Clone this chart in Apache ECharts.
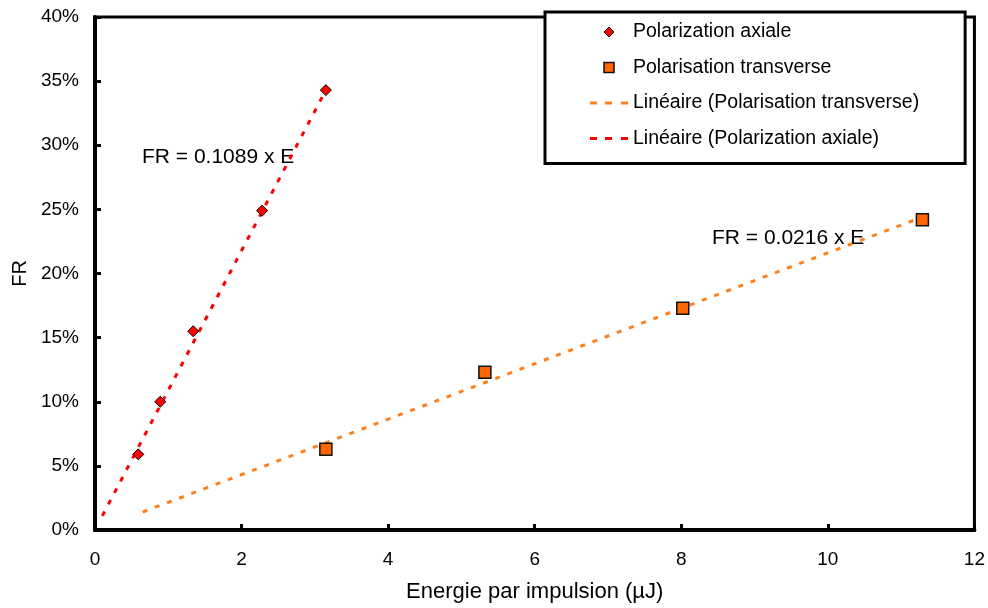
<!DOCTYPE html>
<html>
<head>
<meta charset="utf-8">
<script src="https://cdn.jsdelivr.net/npm/echarts@6/dist/echarts.min.js"></script>
<style>
  html, body { margin: 0; padding: 0; background: #fff; }
  #main { width: 988px; height: 608px; }
</style>
</head>
<body>
<div id="main"></div>
<script>
// points (E en µJ, FR en %)
var axialE = [0.59, 0.89, 1.34, 2.28, 3.15];
var axialFR = [5.9, 10.0, 15.5, 24.9, 34.3];
var transE = [3.15, 5.32, 8.02, 11.29];
var transFR = [6.3, 12.3, 17.3, 24.2];
// extremites des droites de tendance
var fitAxialE = [0.1, 3.15];
var fitAxialFR = [1.1, 34.3];
var fitTransE = [0.65, 11.29];
var fitTransFR = [1.4, 24.4];
var names = ['Polarization axiale', 'Polarisation transverse',
  'Linéaire (Polarisation transverse)', 'Linéaire (Polarization axiale)'];

var RED = '#FF0000', ORANGE = '#FF6600', ORANGE_LINE = '#FF7F1E';
var dashIcon = 'path://M0,0h7v3h-7zM15,0h7v3h-7zM31,0h7v3h-7z';

function pairs(xs, ys) {
  return xs.map(function (x, i) { return [x, ys[i]]; });
}

var font = 'Liberation Sans, Arial, sans-serif';
var chart = echarts.init(document.getElementById('main'));
var option = {
  backgroundColor: '#fff',
  animation: false,
  textStyle: { fontFamily: font },
  grid: {
    left: 95, top: 17, right: 12, bottom: 77,
    show: true, borderColor: '#000', borderWidth: 3, backgroundColor: 'transparent'
  },
  legend: {
    orient: 'vertical',
    left: 545, top: 12,
    padding: [10, 46, 15, 45],
    itemGap: 15.5,
    itemWidth: 38, itemHeight: 10,
    symbolKeepAspect: true,
    backgroundColor: '#fff',
    borderColor: '#000', borderWidth: 3,
    textStyle: { fontFamily: font, fontSize: 19.5, color: '#000' },
    data: [
      { name: names[0], icon: 'path://M0,-1L1,0L0,1L-1,0Z',
        itemStyle: { color: RED, borderColor: '#000', borderWidth: 1 } },
      { name: names[1], icon: 'path://M0,0H1V1H0Z',
        itemStyle: { color: ORANGE, borderColor: '#111', borderWidth: 1.5 } },
      { name: names[2], icon: dashIcon, itemStyle: { color: ORANGE_LINE, borderWidth: 0 } },
      { name: names[3], icon: dashIcon, itemStyle: { color: RED, borderWidth: 0 } }
    ]
  },
  xAxis: {
    type: 'value', min: 0, max: 12, interval: 2,
    name: 'Energie par impulsion (µJ)', nameLocation: 'middle', nameGap: 51,
    nameTextStyle: { fontSize: 22, color: '#000' },
    axisLine: { lineStyle: { color: '#000', width: 4 } },
    axisTick: { inside: true, length: 6, lineStyle: { width: 3, color: '#000' } },
    axisLabel: { fontSize: 19, color: '#000', margin: 20 },
    splitLine: { show: false }
  },
  yAxis: {
    type: 'value', min: 0, max: 40, interval: 5,
    name: 'FR', nameLocation: 'middle', nameGap: 65,
    nameTextStyle: { fontSize: 20, color: '#000' },
    axisLine: { lineStyle: { color: '#000', width: 4 } },
    axisTick: { inside: true, length: 6, lineStyle: { width: 3, color: '#000' } },
    axisLabel: { fontSize: 19, color: '#000', margin: 16, formatter: '{value}%' },
    splitLine: { show: false }
  },
  series: [
    {
      name: names[0], type: 'scatter', symbol: 'diamond', symbolSize: 11, z: 5,
      itemStyle: { color: RED, borderColor: '#000', borderWidth: 1, opacity: 1 },
      data: pairs(axialE, axialFR)
    },
    {
      name: names[1], type: 'scatter', symbol: 'rect', symbolSize: 12, z: 5,
      itemStyle: { color: ORANGE, borderColor: '#111', borderWidth: 1.5, opacity: 1 },
      data: pairs(transE, transFR)
    },
    {
      name: names[2], type: 'line', symbol: 'none', z: 3,
      lineStyle: { color: ORANGE_LINE, width: 3, type: [5, 8] },
      itemStyle: { color: ORANGE_LINE },
      data: pairs(fitTransE, fitTransFR)
    },
    {
      name: names[3], type: 'line', symbol: 'none', z: 3,
      lineStyle: { color: RED, width: 3, type: [5, 8] },
      itemStyle: { color: RED },
      data: pairs(fitAxialE, fitAxialFR)
    }
  ],
  graphic: [
    { type: 'text', left: 142, top: 147,
      style: { text: 'FR = 0.1089 x E', fontSize: 21, fontFamily: font, fill: '#000' } },
    { type: 'text', left: 712, top: 228,
      style: { text: 'FR = 0.0216 x E', fontSize: 21, fontFamily: font, fill: '#000' } }
  ]
};
chart.setOption(option);
</script>
</body>
</html>
